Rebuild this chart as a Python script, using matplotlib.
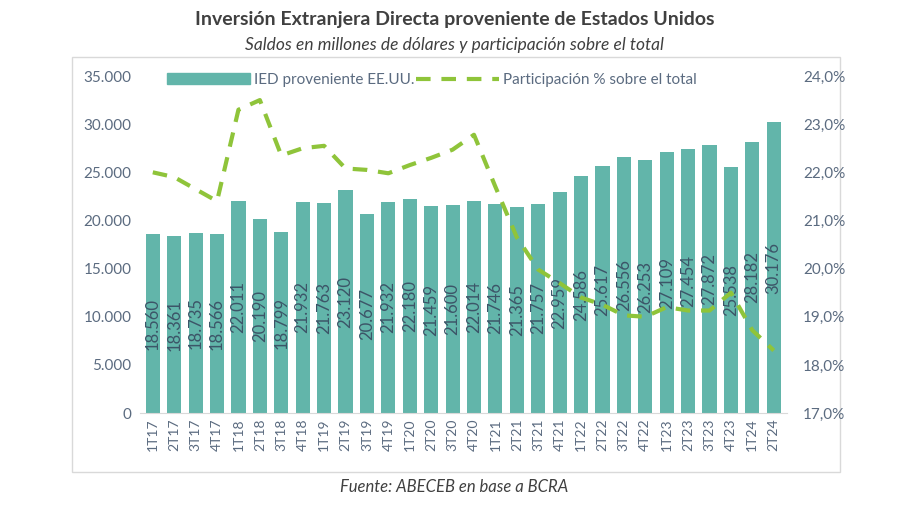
import matplotlib
matplotlib.use("Agg")
import matplotlib.pyplot as plt
from matplotlib.patches import Rectangle
from matplotlib.lines import Line2D
from matplotlib.ticker import FuncFormatter

periods = ["1T17", "2T17", "3T17", "4T17", "1T18", "2T18", "3T18", "4T18",
           "1T19", "2T19", "3T19", "4T19", "1T20", "2T20", "3T20", "4T20",
           "1T21", "2T21", "3T21", "4T21", "1T22", "2T22", "3T22", "4T22",
           "1T23", "2T23", "3T23", "4T23", "1T24", "2T24"]
ied_usa = [18560, 18361, 18735, 18566, 22011, 20190, 18799, 21932,
           21763, 23120, 20677, 21932, 22180, 21459, 21600, 22014,
           21746, 21365, 21757, 22959, 24586, 25617, 26556, 26253,
           27109, 27454, 27872, 25538, 28182, 30176]
share_pct = [22.0, 21.9, 21.65, 21.4, 23.3, 23.5, 22.35, 22.5,
             22.55, 22.08, 22.05, 21.98, 22.15, 22.3, 22.47, 22.78,
             21.7, 20.65, 19.98, 19.7, 19.4, 19.25, 19.03, 19.0,
             19.2, 19.13, 19.13, 19.5, 18.72, 18.3]

title = "Inversión Extranjera Directa proveniente de Estados Unidos"
subtitle = "Saldos en millones de dólares y participación sobre el total"
source = "Fuente: ABECEB en base a BCRA"
bar_label = "IED proveniente EE.UU."
line_label = "Participación % sobre el total"

BAR_C = "#62b5aa"
LINE_C = "#8fc43a"
TXT_C = "#5b6b80"
LBL_C = "#3c5568"

plt.rcParams['font.family'] = ['Lato', 'DejaVu Sans']

fig = plt.figure(figsize=(9, 5.05), dpi=100)
ax = fig.add_axes([0.1555, 0.182, 0.7185, 0.6675])
ax2 = ax.twinx()

x = list(range(len(periods)))
bars = ax.bar(x, ied_usa, width=0.66, color=BAR_C, zorder=2)
for xi, v in zip(x, ied_usa):
    ax.text(xi, v / 2, f"{v:,}".replace(",", "."), rotation=90,
            ha="center", va="center", fontsize=12, color=LBL_C, zorder=3)

ax.set_xlim(-0.6, len(periods) - 0.4)
ax.set_ylim(0, 35000)
ax.set_yticks(range(0, 35001, 5000))
ax.yaxis.set_major_formatter(FuncFormatter(lambda v, p: f"{int(v):,}".replace(",", ".")))
ax.set_xticks(x)
ax.set_xticklabels(periods, rotation=90, fontsize=10, color=TXT_C)

ax2.plot(x, share_pct, color=LINE_C, lw=3, dashes=(3.5, 2.6), zorder=4)
ax2.set_ylim(17, 24)
ax2.set_yticks([17, 18, 19, 20, 21, 22, 23, 24])
ax2.yaxis.set_major_formatter(FuncFormatter(lambda v, p: f"{v:.1f}%".replace(".", ",")))

for a in (ax, ax2):
    for s in a.spines.values():
        s.set_visible(False)
    a.tick_params(length=0, labelsize=11, labelcolor=TXT_C)
ax.tick_params(axis="x", labelsize=10, pad=4)
ax.tick_params(axis="y", pad=6)
ax2.tick_params(axis="y", pad=12)
ax.spines["bottom"].set_visible(True)
ax.spines["bottom"].set_color("#d9d9d9")
ax.spines["bottom"].set_linewidth(0.8)
ax.patch.set_visible(False)
ax2.patch.set_visible(False)
ax.set_zorder(1); ax2.set_zorder(2)

handles = [Rectangle((0, 0), 1, 1, color=BAR_C),
           Line2D([0], [0], color=LINE_C, lw=3, dashes=(3.5, 2.6))]
leg = ax2.legend(handles, [bar_label, line_label], loc="upper center",
                 bbox_to_anchor=(0.452, 1.05), ncol=2, frameon=False,
                 fontsize=11, handlelength=5.4, handleheight=0.7,
                 columnspacing=0.1, handletextpad=0.3)
for t in leg.get_texts():
    t.set_color(TXT_C)

fig.patches.append(Rectangle((72 / 900, 1 - 472 / 505), (840 - 72) / 900, (472 - 57) / 505,
                             transform=fig.transFigure, fill=False,
                             edgecolor="#d9d9d9", lw=1))

fig.text(0.505, 1 - 20 / 505, title, ha="center", va="center",
         fontsize=14, fontweight="bold", color="#404040")
fig.text(0.505, 1 - 45 / 505, subtitle, ha="center", va="center",
         fontsize=12.5, style="italic", color="#404040")
fig.text(0.505, 1 - 487 / 505, source, ha="center", va="center",
         fontsize=12, style="italic", color="#404040")

fig.savefig("out.png", dpi=100)
